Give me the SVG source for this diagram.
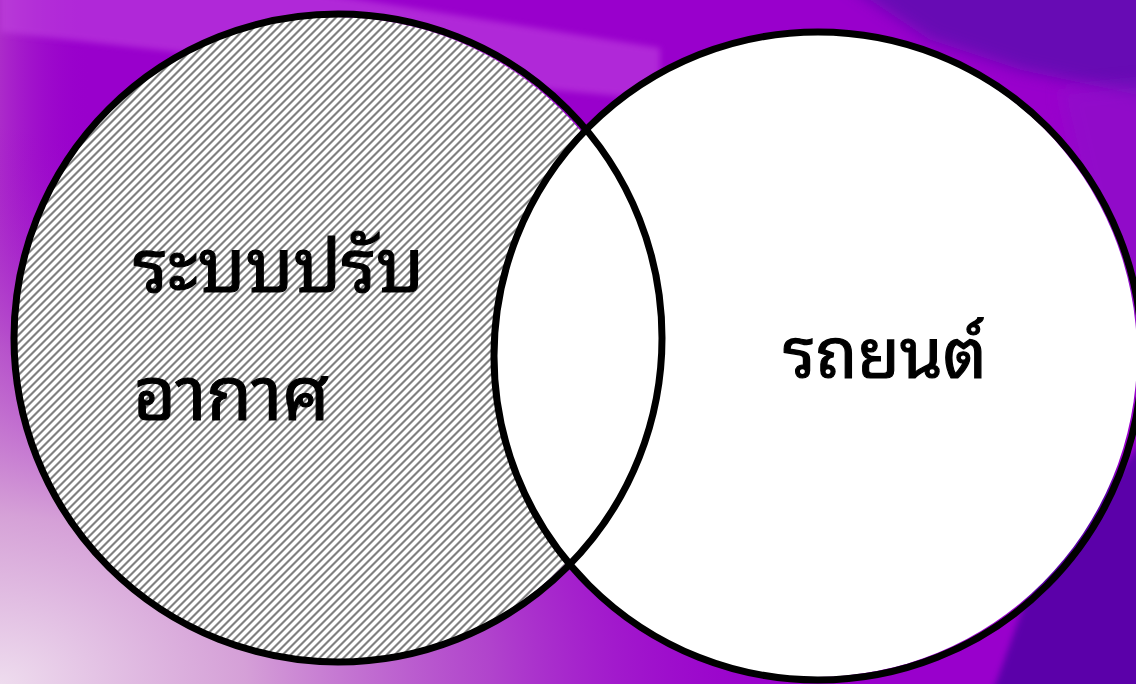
<svg xmlns="http://www.w3.org/2000/svg" width="1136" height="684" viewBox="0 0 1136 684">
  <defs>
    <pattern id="hatch" patternUnits="userSpaceOnUse" width="8" height="8">
      <rect width="8" height="8" fill="#ffffff"/>
      <polygon points="0,0 3,0 0,3" fill="#808080"/>
      <polygon points="8,0 8,3 3,8 0,8" fill="#808080"/>
    </pattern>
    <radialGradient id="bgLeftBottom" cx="0" cy="684" r="1" gradientUnits="userSpaceOnUse" gradientTransform="translate(0 684) scale(820 560) translate(0 -684)">
      <stop offset="0" stop-color="#eedcee" stop-opacity="1"/>
      <stop offset="0.3" stop-color="#d8a8d8" stop-opacity="0.95"/>
      <stop offset="0.6" stop-color="#c070cc" stop-opacity="0.6"/>
      <stop offset="1" stop-color="#9900cc" stop-opacity="0"/>
    </radialGradient>
    <linearGradient id="leftEdge" x1="0" y1="0" x2="90" y2="0" gradientUnits="userSpaceOnUse">
      <stop offset="0" stop-color="#b848c8" stop-opacity="0.6"/>
      <stop offset="1" stop-color="#9900cc" stop-opacity="0"/>
    </linearGradient>
    <filter id="soft" x="-20%" y="-20%" width="140%" height="140%">
      <feGaussianBlur stdDeviation="8"/>
    </filter>
    <filter id="soft2" x="-20%" y="-20%" width="140%" height="140%">
      <feGaussianBlur stdDeviation="3"/>
    </filter>
    <style>
      .outline { fill: none; stroke: #000000; stroke-width: 7; }
      .label { font-family: "Noto Sans Thai Looped", "Loma", "Tahoma", "Garuda", "Noto Sans Thai", "Noto Sans", "DejaVu Sans", sans-serif; font-weight: normal; fill: #000000; stroke: #000000; stroke-width: 1.2; }
      .big { font-size: 74px; }
      .mid { font-size: 69px; }
    </style>
  </defs>

  <g id="background">
    <rect x="0" y="0" width="1136" height="684" fill="#9900cc"/>
    <rect x="0" y="0" width="120" height="684" fill="url(#leftEdge)"/>
    <polygon points="0,-10 300,-10 660,48 660,100 300,66 0,32" fill="#c44ae2" opacity="0.55" filter="url(#soft2)"/>
    <polygon points="840,-20 1160,-20 1160,100 1020,70 930,40" fill="#5e08b0" opacity="0.85" filter="url(#soft)"/>
    <polygon points="1060,90 1160,80 1160,440 1110,300" fill="#8a18c8" opacity="0.5" filter="url(#soft)"/>
    <polygon points="990,700 1160,700 1160,420 1120,470 1040,560" fill="#5800a8" opacity="0.95" filter="url(#soft2)"/>
    <rect x="0" y="0" width="1136" height="684" fill="url(#bgLeftBottom)"/>
  </g>

  <g id="fills">
    <circle cx="335" cy="339" r="322" fill="url(#hatch)"/>
    <circle cx="815" cy="355" r="322" fill="#ffffff"/>
  </g>

  <g id="node-aircon">
    <circle class="outline" cx="338" cy="338" r="324"/>
    <text class="label big" x="133" y="292">ระบบปรับ</text>
    <text class="label big" x="133" y="420">อากาศ</text>
  </g>

  <g id="node-car">
    <circle class="outline" cx="818" cy="356" r="324"/>
    <text class="label mid" x="783" y="378">รถยนต์</text>
  </g>

  <g id="connectors"></g>
</svg>
